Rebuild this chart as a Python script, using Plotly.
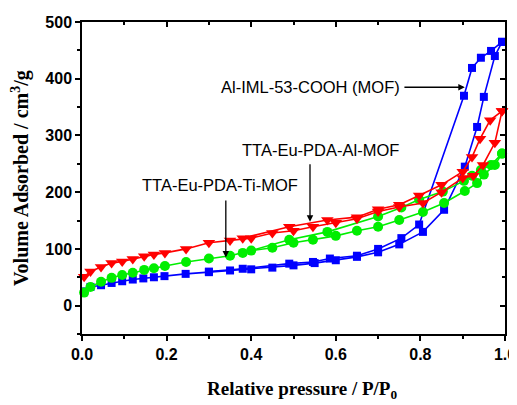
import plotly.graph_objects as go

# Al-IML-53-COOH (MOF) - blue squares
blue_ads_x = [0.005, 0.02, 0.045, 0.07, 0.095, 0.12, 0.145, 0.17, 0.195, 0.245, 0.30, 0.35, 0.40, 0.45, 0.50, 0.55, 0.60, 0.65, 0.70, 0.75, 0.806, 0.856, 0.905, 0.934, 0.95, 0.976, 0.993]
blue_ads_y = [25, 33, 36, 40, 43, 46, 48, 50, 52, 56, 59, 62, 64, 67, 71, 75, 80, 86, 94, 108, 130, 169, 245, 315, 368, 440, 465]
blue_des_x = [0.993, 0.967, 0.943, 0.922, 0.903, 0.797, 0.755, 0.70, 0.65, 0.586, 0.546, 0.49, 0.38, 0.30]
blue_des_y = [465, 449, 437, 419, 370, 143, 119, 100, 88, 83, 77, 74, 65, 60]

# TTA-Eu-PDA-Al-MOF - red triangles
red_ads_x = [0.005, 0.02, 0.045, 0.07, 0.095, 0.12, 0.147, 0.17, 0.196, 0.246, 0.30, 0.35, 0.40, 0.45, 0.50, 0.546, 0.60, 0.65, 0.70, 0.75, 0.806, 0.85, 0.90, 0.925, 0.948, 0.976, 0.993]
red_ads_y = [51, 60, 68, 75, 78, 82, 87, 90, 93, 100, 111, 115, 119, 128, 132, 139, 146, 153, 166, 174, 181, 200, 225, 229, 248, 287, 343]
red_des_x = [0.993, 0.965, 0.941, 0.922, 0.90, 0.85, 0.797, 0.75, 0.70, 0.65, 0.58, 0.49, 0.38]
red_des_y = [343, 327, 294, 262, 236, 213, 194, 178, 170, 156, 151, 139, 119]

# TTA-Eu-PDA-Ti-MOF - green circles
green_ads_x = [0.005, 0.02, 0.045, 0.07, 0.095, 0.12, 0.147, 0.17, 0.196, 0.246, 0.30, 0.35, 0.40, 0.45, 0.50, 0.546, 0.60, 0.65, 0.70, 0.75, 0.806, 0.856, 0.905, 0.934, 0.95, 0.976, 0.993]
green_ads_y = [23, 33, 42, 49, 54, 58, 63, 66, 70, 77, 83, 88, 97, 102, 111, 116, 123, 132, 139, 151, 165, 181, 202, 216, 231, 248, 268]
green_des_x = [0.993, 0.967, 0.943, 0.922, 0.903, 0.853, 0.797, 0.755, 0.70, 0.58, 0.49, 0.38]
green_des_y = [268, 248, 239, 229, 220, 201, 187, 173, 157, 130, 116, 93]

x_tick_vals = [0.0, 0.2, 0.4, 0.6, 0.8, 1.0]
x_tick_text = ["0.0", "0.2", "0.4", "0.6", "0.8", "1.0"]
y_tick_vals = [0, 100, 200, 300, 400, 500]
y_tick_text = ["0", "100", "200", "300", "400", "500"]

BLUE = "#0000ff"
RED = "#ff0000"
GREEN = "#00ee00"

fig = go.Figure()

def add(xs, ys, color, symbol, size):
    fig.add_trace(go.Scatter(
        x=xs, y=ys, mode="lines+markers",
        line=dict(color=color, width=1.6),
        marker=dict(color=color, symbol=symbol, size=size),
        cliponaxis=False, showlegend=False, hoverinfo="skip"))

add(blue_ads_x, blue_ads_y, BLUE, "square", 8)
add(blue_des_x, blue_des_y, BLUE, "square", 8)
add(green_ads_x, green_ads_y, GREEN, "circle", 10)
add(green_des_x, green_des_y, GREEN, "circle", 10)
add(red_ads_x, red_ads_y, RED, "triangle-down", 11)
add(red_des_x, red_des_y, RED, "triangle-down", 11)

# invisible trace for mirrored axes
fig.add_trace(go.Scatter(x=[None], y=[None], xaxis="x2", yaxis="y2", showlegend=False))

tickfont = dict(family="Liberation Sans, Arial", size=16, color="black", weight="bold")
xtitlefont = dict(family="Liberation Serif, Times New Roman", size=19, color="black", weight="bold")
ytitlefont = dict(family="Liberation Serif, Times New Roman", size=20, color="black", weight="bold")

common = dict(tickwidth=1.5, tickcolor="black", showline=True, linecolor="black", linewidth=1.5,
              showgrid=False, zeroline=False, automargin=False)

# page body has an 8px margin, so the figure is slightly smaller than the window
fig.update_layout(
    width=509, height=397,
    margin=dict(l=74, r=12, t=14, b=71),
    plot_bgcolor="white", paper_bgcolor="white",
    xaxis=dict(range=[0, 1.0], tickvals=x_tick_vals, ticktext=x_tick_text,
               ticks="outside", ticklen=5,
               minor=dict(dtick=0.1, tick0=0, ticks="outside", ticklen=3, tickwidth=1.5, tickcolor="black"),
               tickfont=tickfont, **common),
    yaxis=dict(range=[-50, 500], tickvals=y_tick_vals, ticktext=y_tick_text,
               ticks="outside", ticklen=5,
               minor=dict(dtick=50, tick0=0, ticks="outside", ticklen=3, tickwidth=1.5, tickcolor="black"),
               tickfont=tickfont, **common),
    xaxis2=dict(range=[0, 1.0], overlaying="x", side="top", tickvals=x_tick_vals, showticklabels=False,
                ticks="inside", ticklen=5,
                minor=dict(dtick=0.1, tick0=0, ticks="inside", ticklen=3, tickwidth=1.5, tickcolor="black"),
                **common),
    yaxis2=dict(range=[-50, 500], overlaying="y", side="right", tickvals=y_tick_vals, showticklabels=False,
                ticks="inside", ticklen=5,
                minor=dict(dtick=50, tick0=0, ticks="inside", ticklen=3, tickwidth=1.5, tickcolor="black"),
                **common),
)

# axis titles
fig.add_annotation(x=(302 - 82) / 423, y=-(390 - 334) / 312, xref="paper", yref="paper",
                   text="Relative pressure / P/P<sub>0</sub>", showarrow=False, font=xtitlefont,
                   xanchor="center", yanchor="middle")
fig.add_annotation(x=-(82 - 20) / 423, y=(334 - 178) / 312, xref="paper", yref="paper",
                   text="Volume Adsorbed / cm<sup>3</sup>/g", showarrow=False, font=ytitlefont,
                   textangle=-90, xanchor="center", yanchor="middle")

annfont = dict(family="Liberation Sans, Arial", size=16.5, color="black")

# label with horizontal arrow
fig.add_annotation(x=0.905, y=385, ax=0.54, ay=385, xref="x", yref="y", axref="x", ayref="y",
                   text="Al-IML-53-COOH (MOF)", font=annfont, showarrow=True, arrowhead=2,
                   arrowsize=1, arrowwidth=1.3, arrowcolor="black", borderpad=4)
fig.add_annotation(x=0.563, y=275, xref="x", yref="y", text="TTA-Eu-PDA-Al-MOF",
                   showarrow=False, font=annfont, xanchor="center", yanchor="middle")
fig.add_annotation(x=0.326, y=213, xref="x", yref="y", text="TTA-Eu-PDA-Ti-MOF",
                   showarrow=False, font=annfont, xanchor="center", yanchor="middle")

# vertical arrows
arrow_style = dict(showarrow=True, arrowhead=2, arrowsize=1, arrowwidth=1.3, arrowcolor="black",
                   xref="x", yref="y", axref="x", ayref="y", text="")
fig.add_annotation(x=0.539, y=148, ax=0.539, ay=252, **arrow_style)
fig.add_annotation(x=0.340, y=85, ax=0.340, ay=188, **arrow_style)

fig.write_html("out.html")
